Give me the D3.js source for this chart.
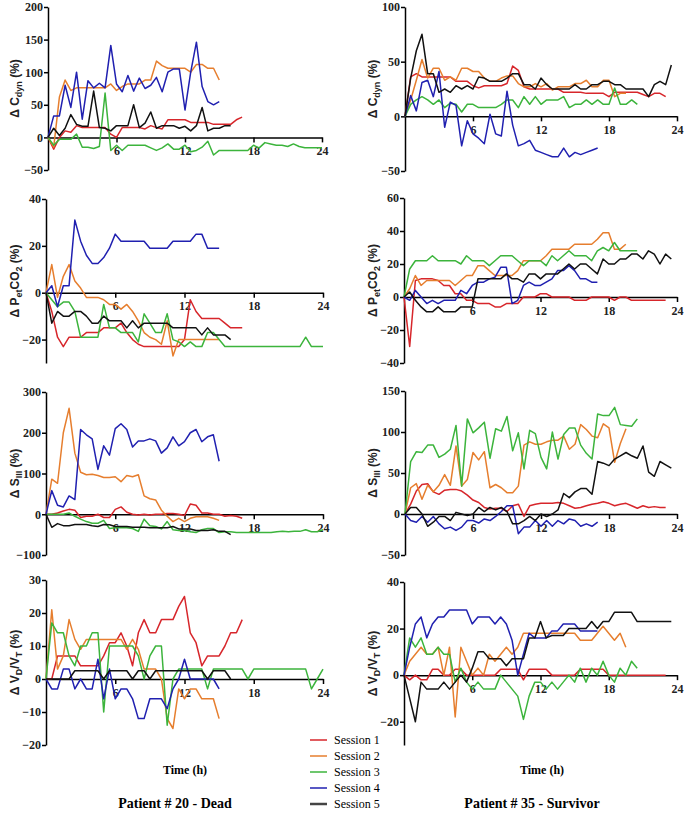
<!DOCTYPE html>
<html>
<head>
<meta charset="utf-8">
<script src="https://cdn.jsdelivr.net/npm/d3@7"></script>
<style>
	body { margin: 0; background: #fff; }
	#vizHolder { width: 685px; height: 813px; }
</style>
</head>
<body>
<div id="vizHolder"></div>
<script>
var	vizHolder = document.querySelector('#vizHolder'),
		width = 685,
		height = 813;

//Time grid shared by every session (h)
var hours = [0,0.5,1,1.5,2,2.5,3,3.5,4,4.5,5,5.5,6,6.5,7,7.5,8,8.5,9,9.5,10,10.5,11,11.5,12,12.5,13,13.5,14,14.5,15,15.5,16,16.5,17,17.5,18,18.5,19,19.5,20,20.5,21,21.5,22,22.5,23,23.5,24];
var xTicks = [6, 12, 18, 24];
var sessions = ['Session 1', 'Session 2', 'Session 3', 'Session 4', 'Session 5'];
var sessionColors = ['#d7262b', '#e67e2e', '#3cb43c', '#2020b0', '#111111'];

//Patient # 20 - Dead
var cdyn20 = [
	[0,-18,0,10,8,18,15,15,15,15,15,5,0,15,15,15,15,13,18,15,13,27,27,27,27,23,23,23,23,20,20,20,20,27,31],
	[0,-15,62,88,72,76,76,76,76,76,76,82,72,78,82,82,82,88,88,117,110,106,106,106,106,100,112,112,106,106,88],
	[0,-12,-3,-3,-3,5,-15,-15,-17,-14,68,-20,-12,-20,-12,-12,-12,-12,-16,-20,-16,-10,-18,-18,-12,-22,-20,-15,-6,-27,-20,-20,-20,-20,-20,-20,-12,-16,-8,-10,-12,-12,-14,-10,-14,-16,-16,-16,-16],
	[0,33,33,80,46,100,28,87,76,83,76,141,82,70,95,71,91,75,80,92,70,100,105,105,42,100,146,78,55,50,55],
	[0,14,3,14,35,20,17,17,71,15,14,10,18,18,18,50,15,22,39,14,18,18,18,14,17,10,18,46,10,14,14,18,18]
];
var petco2_20 = [
	[0,-8,-19,-23,-19,-19,-19,-17,-17,-17,-15,-15,-15,-13,-17,-20,-22,-23,-23,-23,-23,-23,-23,-23,-20,-3,-8,-11,-11,-11,-11,-13,-15,-15,-15],
	[0,12,-2,7,12,5,2,-2,-2,-2,-3,-5,-5,-7,-5,-8,-12,-17,-19,-20,-22,-12,-27,-20,-20,-20,-20,-20,-20,-20,-20],
	[0,-3,-6,-4,-4,-8,-19,-19,-19,-19,-5,-15,-15,-17,-17,-17,-21,-9,-13,-17,-17,-9,-20,-21,-23,-21,-23,-23,-17,-17,-20,-23,-23,-23,-23,-23,-23,-23,-23,-23,-23,-23,-23,-23,-23,-19,-23,-23,-23],
	[0,3,-6,3,3,31,22,16,12.5,12.5,15,19,25,22,22,22,22,22,19,19,19,19,22,22,22,22,25,25,19,19,19],
	[0,-13,-8,-10,-10,-8,-8,-10,-13,-13,-10,-12,-12,-12,-15,-12,-15,-13,-13,-13,-13,-13,-15,-15,-15,-15,-15,-18,-15,-18,-18,-18,-20]
];
var s3_20 = [
	[0,0,3,8,12,10,-8,-5,-5,0,-8,-8,12,18,5,0,-2,0,-2,0,0,2,2,0,-3,25,22,3,3,0,0,-5,-3,-5,-10],
	[0,86,76,200,260,150,103,97,98,95,90,90,92,80,95,92,97,45,38,35,10,-5,-18,-10,-18,-10,-6,-6,-6,-10,-15],
	[0,0,0,0,3,-5,-12,-18,-22,-22,-15,-35,-33,-33,-33,-35,-42,-12,-28,-30,-36,-18,-38,-40,-40,-43,-45,-38,-35,-35,-45,-43,-43,-45,-45,-45,-45,-45,-45,-45,-43,-42,-43,-42,-42,-38,-43,-43,-38],
	[0,58,22,18,45,36,208,195,185,110,168,145,210,222,208,165,180,180,185,180,150,163,190,168,178,200,208,178,190,195,130],
	[0,-32,-23,-28,-28,-25,-25,-25,-28,-30,-25,-26,-30,-30,-30,-32,-32,-32,-33,-33,-33,-33,-30,-36,-36,-36,-40,-40,-40,-38,-42,-42,-50]
];
var vdvt20 = [
	[0,0,7,7,7,7,4,4,4,4,7,11,11,14,10,4,14,18,14,14,18,18,18,22,25,14,11,4,7,7,7,10,14,14,18],
	[0,21,3,7,18,12,9,12,12,12,12,12,12,12,9,12,9,3,3,3,0,-12,-15,-3,-6,-3,-3,-6,-6,-6,-12],
	[0,17,14,14,7,4,10,10,14,14,-10,10,10,10,10,10,7,0,7,10,10,-14,0,3,3,3,3,3,-3,3,3,3,3,3,3,0,3,3,3,3,3,3,3,3,3,3,-3,0,3],
	[0,-3,-3,3,3,-3,0,-3,-3,6,-6,3,-6,-3,-3,-6,-12,-12,-6,-6,-6,-9,-3,0,6,0,0,0,0,0,-3],
	[0,0,0,0,0,2.5,2.5,2.5,2.5,2.5,0,2.5,2.5,2.5,2.5,0,2.5,2.5,0,2.5,2.5,2.5,2.5,2.5,2.5,2.5,2.5,2.5,0,2.5,2.5,2.5,0]
];

//Patient # 35 - Survivor
var cdyn35 = [
	[0,36,39,36,36,36,36,36,36,32,32,32,28,26,28,28,28,28,30,46,42,27,25,25,25,25,25,25,22,22,22,22,21,21,21,21,18,22,22,22,22,22,20,18,21,21,18],
	[0,15,33,52,35,44,44,33,36,33,44,44,41,41,35,32,32,35,37,37,30,27,27,30,27,30,24,27,27,27,30,30,33,27,27,33,33,18,21,21],
	[0,11,15,18,15,11,15,8,12,11,4,11,11,8,8,8,8,11,15,15,8,18,11,18,11,15,15,15,18,8,11,11,15,11,15,11,11,26,11,11,15,11],
	[0,19,5,31,33,18,41,-10,13,10,-27,-4,-16,-20,-25,2,-16,-18,23,-8,-27,-25,-22,-31,-33,-35,-37,-37,-29,-37,-33,-35,-33,-31,-29],
	[0,35,60,75,39,39,22,25,22,28,25,28,25,36,35,32,32,32,35,39,39,29,29,25,35,29,25,25,25,25,29,25,25,29,29,32,32,29,29,25,25,25,25,18,29,32,29,47]
];
var petco2_35 = [
	[0,-30,10,11,11,11,10,7,7,2,2,-2,-2,-4,-4,-4,-6,-6,-4,-4,-4,0,0,0,2,2,0,0,0,0,-2,-2,-2,0,0,0,0,-2,0,0,-2,-2,-2,-2,-2,-2,-2],
	[0,5,13,7,10,10,10,10,10,7,10,13,13,19,19,16,13,13,13,13,16,22,22,22,22,25,29,29,29,29,32,32,32,32,35,39,39,29,29,32],
	[0,17,22,22,22,25,22,22,22,22,20,25,22,22,22,19,22,25,25,25,22,19,22,22,22,19,25,22,25,28,25,25,25,22,28,30,28,33,28,28,28,28],
	[0,-2,4,0,-4,-2,-4,-2,-2,-2,4,2,7,9,9,11,12,18,18,-4,-2,7,9,7,7,9,11,16,16,19,16,11,11,9,9],
	[0,3,-2,-6,-9,-9,-6,-9,-9,-9,-6,-6,-6,11,11,11,11,11,14,11,11,9,14,14,11,14,14,14,17,20,17,20,20,17,14,23,20,20,23,23,26,26,23,28,26,20,26,23]
];
var s3_35 = [
	[0,12,28,36,37,27,24,29,30,30,28,23,17,14,8,6,7,7,3,10,12,-3,10,12,13,13,13,14,13,10,7,8,10,12,13,15,13,10,12,13,10,7,10,8,9,8,8],
	[0,32,37,18,35,27,35,48,35,83,34,42,75,66,76,32,36,32,26,26,34,84,88,85,85,88,90,90,95,79,85,109,103,95,93,110,105,63,86,104],
	[0,64,76,75,84,84,69,73,79,108,34,116,99,105,112,68,104,101,119,77,99,55,102,98,69,55,100,67,97,105,105,84,74,67,122,120,120,130,109,108,107,116],
	[0,-8,-10,-3,-10,-3,-12,-18,-16,-20,-16,-8,-8,-11,-6,-8,-3,3,10,10,-24,-16,-16,-8,-15,-8,-15,-8,-12,-6,-8,-15,-12,-15,-10],
	[0,8,8,0,-15,-10,-3,-3,-8,2,0,-2,0,8,3,8,5,8,3,-12,-12,-8,-3,-8,0,-3,0,5,25,20,27,31,31,24,64,62,59,67,71,75,71,68,83,51,46,64,60,56]
];
var vdvt35 = [
	[0,-2,0,-2,-2,2.5,2.5,0,0,2.5,2.5,0,0,0,0,0,0,2.5,2.5,2.5,2.5,-2,2.5,2.5,2.5,2.5,0,0,0,0,0,2.5,2.5,2.5,2.5,2.5,0,0,0,0,0,0,0,0,0,0,0],
	[0,6,9,12,9,9,12,0,12,-18,12,6,0,3,0,9,6,9,12,9,12,18,18,18,18,18,18,18,18,18,18,15,15,15,18,21,18,15,18,12],
	[0,16,12,16,9,9,12,9,9,-3,3,-3,-6,-3,-6,-6,-6,0,-3,-6,-9,-19,-9,-3,-3,-6,-3,-6,-3,0,-3,3,-3,3,0,6,0,-3,3,0,6,3],
	[0,12,22,25,16,22,25,25,28,28,28,28,22,25,25,25,22,25,22,15,0,9,18,16,16,16,19,19,22,22,22,19,19,19,19],
	[0,-10,-20,-3,-6,-6,-6,-3,-6,-3,0,-3,3,10,10,7,7,7,4,7,7,7,16,16,23,16,17,17,17,20,20,20,20,23,20,23,23,27,27,27,27,23,23,23,23,23,23,23]
];

//Y axis labels, [text, isSubscript]
var cdynLabel = [['\u0394 C', 0], ['dyn', 1], [' (%)', 0]];
var petco2Label = [['\u0394 P', 0], ['et', 1], ['CO', 0], ['2', 1], [' (%)', 0]];
var s3Label = [['\u0394 S', 0], ['III', 1], [' (%)', 0]];
var vdvtLabel = [['\u0394 V', 0], ['D', 1], ['/V', 0], ['T', 1], [' (%)', 0]];

var panels = [
	{ data: cdyn20, label: cdynLabel, domain: [-50, 200], ticks: [-50, 0, 50, 100, 150, 200], xr: [48, 322], yr: [170, 7], lx: 19 },
	{ data: cdyn35, label: cdynLabel, domain: [-50, 100], ticks: [-50, 0, 50, 100], xr: [405, 677], yr: [171, 7], lx: 377 },
	{ data: petco2_20, label: petco2Label, domain: [-30, 40], ticks: [-20, 0, 20, 40], xr: [46, 323], yr: [363, 199], lx: 19 },
	{ data: petco2_35, label: petco2Label, domain: [-40, 60], ticks: [-40, -20, 0, 20, 40, 60], xr: [404, 677], yr: [363, 198], lx: 377 },
	{ data: s3_20, label: s3Label, domain: [-100, 300], ticks: [-100, 0, 100, 200, 300], xr: [46, 323], yr: [555, 392], lx: 19 },
	{ data: s3_35, label: s3Label, domain: [-50, 150], ticks: [-50, 0, 50, 100, 150], xr: [405, 677], yr: [555, 391], lx: 377 },
	{ data: vdvt20, label: vdvtLabel, domain: [-20, 30], ticks: [-20, -10, 0, 10, 20, 30], xr: [46, 323], yr: [745, 580], lx: 19 },
	{ data: vdvt35, label: vdvtLabel, domain: [-30, 40], ticks: [-20, 0, 20, 40], xr: [404, 677], yr: [745, 582], lx: 377 }
];

var serif = '"Liberation Serif", "Times New Roman", serif',
		sans = '"Liberation Sans", Arial, sans-serif';

drawViz();

function drawViz() {
	d3.select(vizHolder).selectAll("*").remove();

	var svg = d3.select(vizHolder)
				.append('svg')
				.attr('height', height)
				.attr('width', width);

	panels.forEach(function(p) {
		drawPanel(svg, p);
	});

	//Time labels and patient titles
	svg.append('text')
		.attr('x', 185).attr('y', 774)
		.attr('text-anchor', 'middle')
		.attr('font-family', serif).attr('font-weight', 'bold').attr('font-size', 12)
		.text('Time (h)');
	svg.append('text')
		.attr('x', 542).attr('y', 774)
		.attr('text-anchor', 'middle')
		.attr('font-family', serif).attr('font-weight', 'bold').attr('font-size', 12)
		.text('Time (h)');
	svg.append('text')
		.attr('x', 175).attr('y', 808)
		.attr('text-anchor', 'middle')
		.attr('font-family', serif).attr('font-weight', 'bold').attr('font-size', 14)
		.text('Patient # 20 - Dead');
	svg.append('text')
		.attr('x', 532).attr('y', 808)
		.attr('text-anchor', 'middle')
		.attr('font-family', serif).attr('font-weight', 'bold').attr('font-size', 14)
		.text('Patient # 35 - Survivor');

	//Legend
	var legend = svg.append('g')
		.attr('transform', 'translate(310, 740)');

	var item = legend.selectAll('g')
		.data(sessions)
		.enter()
		.append('g')
		.attr('transform', function(d, i) { return 'translate(0,' + (i * 16) + ')'; });

	item.append('line')
		.attr('x1', 0).attr('x2', 17)
		.attr('stroke', function(d, i) { return i == 4 ? '#444' : sessionColors[i]; })
		.attr('stroke-width', function(d, i) { return i == 4 ? 2.5 : 1.5; });

	item.append('text')
		.attr('x', 24).attr('y', 4)
		.attr('font-family', serif).attr('font-size', 12)
		.text(function(d) { return d; });
}

function drawPanel(svg, p) {
	var xScale = d3.scaleLinear()
		.domain([0, 24])
		.range(p.xr);

	var yScale = d3.scaleLinear()
		.domain(p.domain)
		.range(p.yr);

	var g = svg.append('g');

	var xAxis = g.append("g")
		.attr("transform", "translate(0," + yScale(0) + ")")
		.call(d3.axisBottom(xScale).tickValues(xTicks).tickSize(5).tickSizeOuter(0).tickPadding(4));

	var yAxis = g.append("g")
		.attr("transform", "translate(" + xScale(0) + ",0)")
		.call(d3.axisLeft(yScale).tickValues(p.ticks).tickSize(4).tickSizeOuter(0).tickPadding(1));

	[xAxis, yAxis].forEach(function(a) {
		a.attr('font-family', serif).attr('font-weight', 'bold').attr('font-size', 12);
		a.selectAll('path, line').attr('stroke', '#000').attr('stroke-width', 1.5);
		a.selectAll('text').attr('fill', '#222');
	});

	//Y label with subscripts
	var label = g.append('text')
		.attr('transform', 'translate(' + p.lx + ',' + ((p.yr[0] + p.yr[1]) / 2) + ') rotate(-90)')
		.attr('text-anchor', 'middle')
		.attr('font-family', sans).attr('font-weight', 'bold').attr('font-size', 12)
		.attr('fill', '#222');

	var wasSub = 0;
	p.label.forEach(function(part) {
		var t = label.append('tspan').text(part[0]);
		if (part[1]) {
			t.attr('font-size', 9).attr('dy', 3);
		} else if (wasSub) {
			t.attr('dy', -3);
		}
		wasSub = part[1];
	});

	//Session lines
	var line = d3.line()
		.x(function(d, i) { return xScale(hours[i]); })
		.y(function(d) { return yScale(d); });

	g.selectAll('.session')
		.data(p.data)
		.enter()
		.append('path')
		.attr('class', 'session')
		.attr('fill', 'none')
		.attr('stroke', function(d, i) { return sessionColors[i]; })
		.attr('stroke-width', 1.5)
		.attr('stroke-linejoin', 'round')
		.attr('d', line);
}
</script>
</body>
</html>
